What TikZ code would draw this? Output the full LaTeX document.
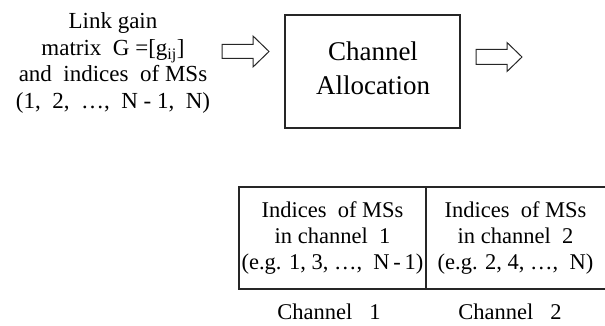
\documentclass[tikz,border=0pt]{standalone}
\usepackage{fontspec}
\setmainfont{Liberation Serif}
\begin{document}
\begin{tikzpicture}[x=1pt, y=-1pt, line join=miter,
  txt/.style={align=center, inner sep=0pt, font=\fontsize{23}{26.5}\selectfont},
  zelle/.style={align=center, inner sep=0pt, font=\fontsize{22.5}{26}\selectfont},
  gross/.style={align=center, inner sep=0pt, font=\fontsize{27}{34}\selectfont},
  pfeil/.style={draw=black!85, line width=1pt},
  rahmen/.style={draw=black!85, line width=1.2pt}]
   %Rahmen
   \useasboundingbox (0,0) rectangle (605,326);

\coordinate(a) at (222,44.5);
\coordinate(b) at (476,49.5);

\coordinate(c) at (285,15);
\coordinate(d) at (460,128);

\coordinate(e) at (239,187);
\coordinate(f) at (426,187);
\coordinate(g) at (605,187);
%Texte
\node[txt] (eingabe) at (113,63) {Link gain\\matrix \ G =[g\textsubscript{ij}]\\and \ indices \ of MSs\\(1,\ \ 2,\ \ \ldots,\ \ N - 1,\ \ N)};
\node[gross] (zuteilung) at (373,68) {Channel\\Allocation};
\node[zelle] (kanal1) at (332.5,238) {Indices \ of MSs\\in channel \ 1\\(e.g. 1, 3, \ldots, \ N\,-\,1)};
\node[zelle] (kanal2) at (515.5,238) {Indices \ of MSs\\in channel \ 2\\(e.g. 2, 4, \ldots, \ N)};
\node[zelle] (name1) at (329,312) {Channel \ \ 1};
\node[zelle] (name2) at (510,312) {Channel \ \ 2};
%Kasten
\draw[rahmen] (c) rectangle (d);
\draw[rahmen] (g) -- (e) -- ++(0,102) -- ++(366,0);
\draw[rahmen] (f) -- ++(0,102);
%Pfeile
\draw[pfeil] (a) -- ++(31,0) -- ++(0,-8.5) -- ++(16,15.5) -- ++(-16,15.5) -- ++(0,-8.5) -- ++(-31,0) -- cycle;
\draw[pfeil] (b) -- ++(31,0) -- ++(0,-7) -- ++(15,14.5) -- ++(-15,14.5) -- ++(0,-7) -- ++(-31,0) -- cycle;
\end{tikzpicture}
\end{document}
